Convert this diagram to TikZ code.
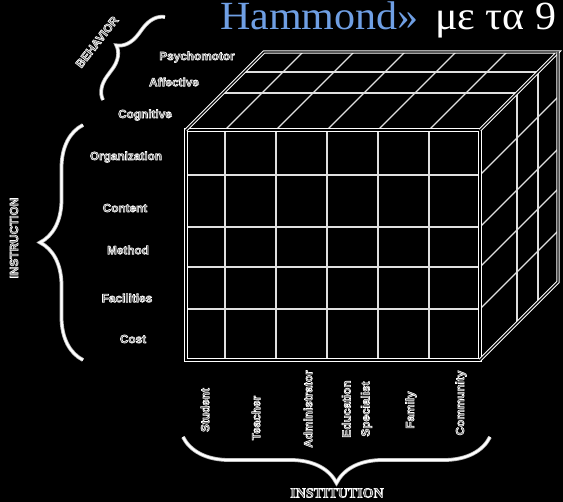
\documentclass[tikz,border=0pt]{standalone}
\usepackage{fontspec}
\setmainfont{Liberation Sans}
\newfontfamily\titlefont{Liberation Serif}[FakeStretch=1.05]
\newfontfamily\capfont{Liberation Serif}
\usetikzlibrary{decorations.pathreplacing}
\definecolor{titleblue}{HTML}{6F9FE4}
% outlined text: dark fill, white stroke
\newcommand{\outl}[1]{\special{pdf:code q 2 Tr 0.6 w 1 G}#1\special{pdf:code Q}}

\begin{document}
\begin{tikzpicture}[x=1pt, y=-1pt,
		grid/.style={draw=gray!25, line width=1.2pt},
		edge/.style={draw=white, double=black, double distance=1.4pt, line width=0.9pt},
		lbl/.style={text=black!60, font=\fontsize{11.8}{19}\selectfont\bfseries, inner sep=0pt},
		bigbrace/.style={draw=gray!55, line width=0.8pt, double=white, double distance=2.2pt, decorate, decoration={brace, amplitude=#1}}]
		\fill[black] (0,0) rectangle (563,502);
		\clip (0,0) rectangle (563,502);

		% title
		\node[anchor=base west, inner sep=0pt, text=white, font=\titlefont\fontsize{40}{44}\selectfont] (title) at (220,30) {\textcolor{titleblue}{Hammond»}\hspace{6pt} με τα 9};

		% front face
		\draw[grid] (225,130) -- (225,360);
		\draw[grid] (276,130) -- (276,360);
		\draw[grid] (327,130) -- (327,360);
		\draw[grid] (378,130) -- (378,360);
		\draw[grid] (429,130) -- (429,360);
		\draw[grid] (186,175) -- (480,175);
		\draw[grid] (186,227) -- (480,227);
		\draw[grid] (186,267) -- (480,267);
		\draw[grid] (186,309) -- (480,309);

		% top face
		\draw[grid] (223,93) -- (517,93);
		\draw[grid] (244,72) -- (538,72);
		\draw[grid] (225,130) -- (303,52);
		\draw[grid] (276,130) -- (354,52);
		\draw[grid] (327,130) -- (405,52);
		\draw[grid] (378,130) -- (456,52);
		\draw[grid] (429,130) -- (507,52);

		% right face
		\draw[grid] (517,93) -- (517,323);
		\draw[grid] (538,72) -- (538,302);
		\draw[grid] (480,175) -- (558,97);
		\draw[grid] (480,227) -- (558,149);
		\draw[grid] (480,267) -- (558,189);
		\draw[grid] (480,309) -- (558,231);

		% outer edges
		\draw[edge] (186,130) rectangle (480,360);
		\draw[edge] (186,130) -- (264,52) -- (558,52) -- (480,130);
		\draw[edge] (558,52) -- (558,282) -- (480,360);

		% behavior
		\node[lbl] (psycho) at (197,57) {\outl{Psychomotor}};
		\node[lbl] (affect) at (174,82) {\outl{Affective}};
		\node[lbl] (cogn) at (145,115) {\outl{Cognitive}};
		\node[lbl, rotate=52] (behav) at (97,42) {\outl{BEHAVIOR}};
		\coordinate (bhA) at (103,100);
		\coordinate (bhB) at (165,17);
		\draw[bigbrace=22pt] (bhA) -- (bhB);

		% instruction
		\node[lbl] (org) at (126,157) {\outl{Organization}};
		\node[lbl] (content) at (125,208) {\outl{Content}};
		\node[lbl] (method) at (128,250) {\outl{Method}};
		\node[lbl] (facil) at (127,298) {\outl{Facilities}};
		\node[lbl] (cost) at (133,339) {\outl{Cost}};
		\node[lbl, rotate=90] (instr) at (14,238) {\outl{INSTRUCTION}};
		\coordinate (inA) at (83,360);
		\coordinate (inB) at (83,125);
		\draw[bigbrace=43pt] (inA) -- (inB);

		% institution
		\node[lbl, rotate=90] (student) at (205,410) {\outl{Student}};
		\node[lbl, rotate=90] (teacher) at (256,418) {\outl{Teacher}};
		\node[lbl, rotate=90] (admin) at (308,409) {\outl{Administrator}};
		\node[lbl, rotate=90, align=center] (eduspec) at (357,409) {\outl{Education}\\\outl{Specialist}};
		\node[lbl, rotate=90] (family) at (411,410) {\outl{Family}};
		\node[lbl, rotate=90] (community) at (461,403) {\outl{Community}};
		\coordinate (itA) at (490,437);
		\coordinate (itB) at (183,437);
		\draw[bigbrace=46pt] (itA) -- (itB);
		\node[lbl, font=\capfont\fontsize{14}{16}\selectfont\bfseries] (instit) at (337,493) {\outl{INSTITUTION}};
	\end{tikzpicture}
\end{document}
